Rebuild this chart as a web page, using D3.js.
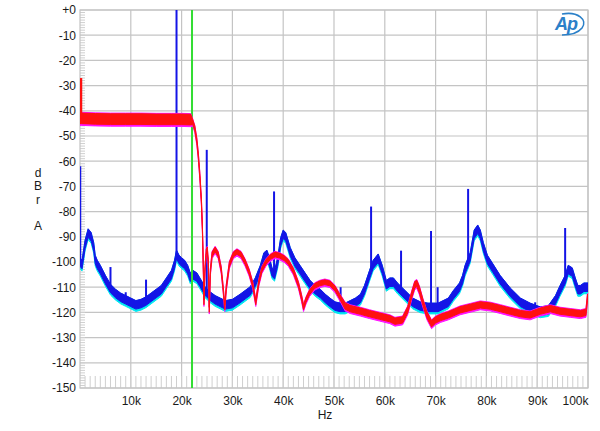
<!DOCTYPE html>
<html><head><meta charset="utf-8">
<script src="https://cdn.jsdelivr.net/npm/d3@7"></script>
<style>body{margin:0;background:#fff}svg{display:block}text{font-family:"Liberation Sans",Arial,sans-serif}</style>
</head><body><div id="c"></div>
<script>
// ---- data (kHz, dB) ----
const xTickValues = [10,20,30,40,50,60,70,80,90,100];
const xTickLabels = ["10k","20k","30k","40k","50k","60k","70k","80k","90k","100k"];
const yTickValues = [0,-10,-20,-30,-40,-50,-60,-70,-80,-90,-100,-110,-120,-130,-140,-150];
const yTickLabels = ["+0","-10","-20","-30","-40","-50","-60","-70","-80","-90","-100","-110","-120","-130","-140","-150"];
const yAxisLetters = ["d","B","r","","A"];
const xAxisTitle = "Hz";

const blueFreq = [0,0.4,1.0,1.6,2.2,2.7,3.0,3.4,4,5,6,7,8,9,10,11,12,13,14,15,16,17,18,18.6,19.0,19.5,20.0,20.6,21.2,21.7,22.2,23,23.6,24.6,25.6,26.6,27.6,28.6,30,31.5,32.5,33.5,34.5,35.5,36.2,36.8,37.3,37.8,38.3,38.9,39.5,40.0,40.5,41.4,42.3,43.3,44.3,45.3,46.3,47.3,48.3,49.2,50.2,51.2,52.2,53.2,54.2,55.2,56.0,57.0,57.7,58.7,59.5,60.3,61.0,61.7,62.5,64,65.5,67,68.5,70.5,72.5,73.5,74.7,75.3,75.8,76.8,77.6,78.3,78.8,79.4,80.2,81.3,82.7,84.7,86.7,88.6,90.6,92.2,93.6,94.5,95.5,96.1,96.9,97.5,98,98.5,99.2,100];
const blueDb   = [-100,-101,-93,-88.5,-90,-94,-99,-101,-103,-107,-110.5,-112.5,-114,-115,-116,-117,-116.5,-115.5,-114,-112.5,-111,-108,-105,-101,-97,-99,-100,-101,-103,-106,-105,-106,-108,-111.5,-113.5,-115,-116,-117,-116.5,-114.5,-113,-111.5,-108,-103,-98,-97,-100,-104,-105,-100,-92,-89,-90,-96,-100,-103,-106,-109,-111,-112.5,-114.5,-116,-117.5,-118,-118,-117,-116,-114.5,-111,-105,-101,-98.5,-103,-109,-108,-108,-110,-113,-116,-117.5,-118,-118,-116,-113,-110,-107,-103,-98,-89,-87,-89,-94,-99,-102.5,-107,-112,-116,-118,-119.5,-119,-115,-111,-107,-103,-104,-108,-111,-111,-110,-110];
const blueSpikeFreq = [0,6.0,9.0,13.0,19.0,24.95,38.2,51.3,57.3,63.2,69.1,70.4,76.4,85.3,89.6,95.5];
const blueSpikeDb   = [-62,-102,-112,-107,0,-55.5,-72,-110,-78,-95.5,-87.7,-110,-71,-112,-116,-86.5];

const redFreq = [0,0.3,3,6,9,12,15,18,20,21.8,22.2,22.6,23.0,23.3,23.6,23.9,24.1,24.25,24.4,24.6,24.85,25.05,25.25,25.45,25.65,26.0,26.6,27.2,27.8,28.2,28.5,28.8,29.4,30.2,30.9,31.7,32.5,33.3,34.0,34.6,35.2,35.8,36.6,37.5,38.4,39.3,40.2,41,42,43,43.6,44.0,44.5,45.2,46.2,47.2,48.2,49.2,50.2,51.2,52.2,53.2,55.2,57,59,61,62,63.5,64.5,65.3,65.9,66.3,66.8,67.5,68.3,69.2,70,71,72.5,74.8,76.8,78.8,80.8,82.8,84.7,86.7,88.6,90.6,92.6,94.5,96.5,98.5,99.6,99.9];
const redDb   = [-43,-43,-43.2,-43.3,-43.3,-43.3,-43.4,-43.4,-43.4,-43.5,-44.5,-47,-52,-58,-66,-76,-87,-100,-116,-103,-96,-95,-100,-119,-104,-97,-95,-97,-103,-111,-118,-110,-101,-97,-96,-97,-100,-104,-109,-116,-108,-103,-100,-98,-97,-97.5,-98.5,-100,-103.5,-109,-114,-118,-115,-112,-109.5,-108.5,-108,-108.5,-110.5,-114,-117.5,-118.5,-119.5,-120.5,-121.5,-122.5,-123.5,-123,-119,-113,-109,-108.5,-111,-116,-121,-124.5,-123,-122,-121,-119,-118,-117,-117.5,-118.5,-119.5,-120.5,-121,-119.5,-118.5,-119.5,-120,-120.5,-120,-114];
const redSpikeFreq = [0];
const redSpikeDb = [-27];
const nyquistFreq = 22.05;

// ---- layout ----
const W = 600, H = 431;
const L = 80, R = 588, T = 10, B = 388;
const x = d3.scaleLinear().domain([0,100]).range([L,R]);
const y = d3.scaleLinear().domain([0,-150]).range([T,B]);

const svg = d3.select("#c").append("svg").attr("width",W).attr("height",H);

// grid
const g = svg.append("g");
g.selectAll(".vg").data(xTickValues).join("line")
  .attr("x1",d=>x(d)).attr("x2",d=>x(d)).attr("y1",T).attr("y2",B)
  .attr("stroke","#c4c4c4").attr("stroke-width",1.2);
g.selectAll(".hg").data(yTickValues).join("line")
  .attr("x1",L).attr("x2",R).attr("y1",d=>y(d)).attr("y2",d=>y(d))
  .attr("stroke","#c4c4c4").attr("stroke-width",1.2);
// minor ticks
g.selectAll(".mx").data(d3.range(1,100)).join("line")
  .attr("x1",d=>x(d)).attr("x2",d=>x(d)).attr("y1",B-12).attr("y2",B)
  .attr("stroke","#cfcfcf").attr("stroke-width",1);
g.selectAll(".my").data(d3.range(-1,-150,-1)).join("line")
  .attr("x1",L).attr("x2",L+5).attr("y1",d=>y(d)).attr("y2",d=>y(d))
  .attr("stroke","#cfcfcf").attr("stroke-width",1);
g.append("rect").attr("x",L).attr("y",T).attr("width",R-L).attr("height",B-T)
  .attr("fill","none").attr("stroke","#c4c4c4").attr("stroke-width",1.2);

// axes labels
const yAx = svg.append("g").attr("transform",`translate(${L},0)`)
  .call(d3.axisLeft(y).tickValues(yTickValues).tickSize(0).tickPadding(4)
    .tickFormat((d,i)=>yTickLabels[i]));
yAx.select(".domain").remove();
yAx.selectAll("text").attr("font-size",12).attr("fill","#1a1a1a").attr("font-family","Liberation Sans, Arial, sans-serif");

const xAx = svg.append("g").attr("transform",`translate(0,${B})`)
  .call(d3.axisBottom(x).tickValues(xTickValues).tickSize(0).tickPadding(8)
    .tickFormat((d,i)=>xTickLabels[i]));
xAx.select(".domain").remove();
xAx.selectAll("text").attr("font-size",12).attr("fill","#1a1a1a").attr("font-family","Liberation Sans, Arial, sans-serif")
  .attr("text-anchor",(d,i)=> i===xTickLabels.length-1 ? "end":"middle");

svg.append("text").attr("x",(L+R)/2-9).attr("y",419).attr("text-anchor","middle")
  .attr("font-size",12).attr("fill","#1a1a1a").text(xAxisTitle);
svg.selectAll(".yl").data(yAxisLetters).join("text")
  .attr("x",38).attr("y",(d,i)=>177+i*13.3).attr("text-anchor","middle")
  .attr("font-size",12).attr("fill","#1a1a1a").text(d=>d);

// ---- series ----
svg.append("clipPath").attr("id","pc").append("rect")
  .attr("x",L).attr("y",T).attr("width",R-L).attr("height",B-T);
const P = svg.append("g").attr("clip-path","url(#pc)");

function band(fr, db, spreadFn, shift){
  const pts = fr.map((f,i)=>({f, v:db[i]+shift, s:spreadFn(f)}));
  return d3.area().x(d=>x(d.f)).y0(d=>y(d.v - d.s)).y1(d=>y(d.v + d.s)).curve(d3.curveLinear)(pts);
}
function interp(fr, db, f){
  const i = d3.bisectRight(fr, f);
  if(i<=0) return db[0];
  if(i>=fr.length) return db[db.length-1];
  const t=(f-fr[i-1])/(fr[i]-fr[i-1]);
  return db[i-1]+t*(db[i]-db[i-1]);
}

const blueSpread = ()=>1.7;
const redSpread = f => f<22.1 ? 2.1 : (f<52 ? 0.95 : 1.25);

// cyan (second channel) behind blue
P.append("path").attr("d",band(blueFreq,blueDb,f=>blueSpread(f)+0.4,-0.5))
  .attr("fill","#00e8f0").attr("stroke","#00e8f0").attr("stroke-width",1);
P.append("path").attr("d",band(blueFreq,blueDb,blueSpread,0))
  .attr("fill","#1414e6").attr("stroke","#1414e6").attr("stroke-width",1);
P.selectAll(".bs").data(blueSpikeFreq).join("line")
  .attr("x1",d=>x(d)).attr("x2",d=>x(d))
  .attr("y1",d=>y(interp(blueFreq,blueDb,d)))
  .attr("y2",(d,i)=>y(blueSpikeDb[i]))
  .attr("stroke","#1414e6").attr("stroke-width",(d,i)=> i===0?2.5:2);

// nyquist marker
P.append("line").attr("x1",x(nyquistFreq)).attr("x2",x(nyquistFreq)).attr("y1",T).attr("y2",B)
  .attr("stroke","#33dd33").attr("stroke-width",2);

// magenta (second channel) behind red
P.append("path").attr("d",band(redFreq,redDb,f=>redSpread(f)+0.5,-0.2))
  .attr("fill","#ff10ff").attr("stroke","#ff10ff").attr("stroke-width",1);
P.append("path").attr("d",band(redFreq,redDb,redSpread,0))
  .attr("fill","#ff1010").attr("stroke","#ff1010").attr("stroke-width",1);
P.selectAll(".rs").data(redSpikeFreq).join("line")
  .attr("x1",d=>x(d)+1).attr("x2",d=>x(d)+1)
  .attr("y1",d=>y(interp(redFreq,redDb,d)))
  .attr("y2",(d,i)=>y(redSpikeDb[i]))
  .attr("stroke","#ff1010").attr("stroke-width",2.5);

// logo
const lg = svg.append("g").attr("transform","translate(568,24)");
lg.append("text").attr("x",-2).attr("y",6).attr("text-anchor","middle")
  .attr("font-size",18).attr("font-style","italic").attr("font-weight","bold")
  .attr("fill","#2b80c8").attr("letter-spacing","-1").text("Ap");
lg.append("path").attr("d","M -6 -10 C 10 -13, 20 -4, 14 4 C 10 9, 2 11, -6 11")
  .attr("fill","none").attr("stroke","#2b80c8").attr("stroke-width",1.6);
</script></body></html>
